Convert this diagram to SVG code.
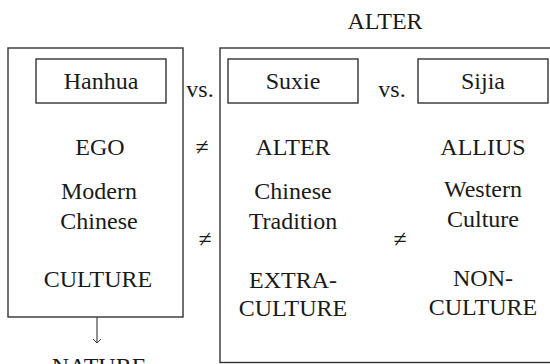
<svg xmlns="http://www.w3.org/2000/svg" width="550" height="364" viewBox="0 0 550 364">
<defs>
<style>
text{font-family:"Liberation Serif","Times New Roman",serif;font-size:24px;fill:#1a1a1a;text-anchor:middle}
.box{fill:none;stroke:#333;stroke-width:1.4}
.ln{fill:none;stroke:#444;stroke-width:1.2}
</style>
<marker id="ah" viewBox="0 0 10 10" refX="9" refY="5" markerWidth="10" markerHeight="10" markerUnits="userSpaceOnUse" orient="auto">
<path d="M5,1 L9,5 L5,9" fill="none" stroke="#444" stroke-width="1"/>
</marker>
</defs>
<rect width="550" height="364" fill="#fff"/>
<g id="ego-frame">
<rect class="box" x="8" y="48" width="175" height="269"/>
<text x="100" y="155">EGO</text>
<text x="99" y="199">Modern</text>
<text x="99" y="229">Chinese</text>
<text x="98" y="287">CULTURE</text>
</g>
<g id="hanhua">
<rect class="box" x="36" y="59" width="130" height="44"/>
<text x="101" y="89">Hanhua</text>
</g>
<g id="alter-frame">
<text x="385" y="29">ALTER</text>
<rect class="box" x="220" y="48" width="340" height="314.5"/>
</g>
<g id="suxie">
<rect class="box" x="228" y="59" width="130" height="44"/>
<text x="293" y="89">Suxie</text>
<text x="293" y="155">ALTER</text>
<text x="293" y="199">Chinese</text>
<text x="293" y="229">Tradition</text>
<text x="293" y="288">EXTRA-</text>
<text x="293" y="316">CULTURE</text>
</g>
<g id="sijia">
<rect class="box" x="418" y="59" width="130" height="44"/>
<text x="483" y="89">Sijia</text>
<text x="483" y="155">ALLIUS</text>
<text x="483" y="197">Western</text>
<text x="483" y="227">Culture</text>
<text x="483" y="286">NON-</text>
<text x="483" y="315">CULTURE</text>
</g>
<g id="nature">
<text x="99" y="374">NATURE</text>
</g>
<g id="relations">
<text x="200" y="97">vs.</text>
<text x="392" y="97">vs.</text>
<text x="202" y="155">≠</text>
<text x="205" y="247">≠</text>
<text x="400" y="247">≠</text>
</g>
<g id="connectors">
<line class="ln" x1="97" y1="317" x2="97" y2="343" marker-end="url(#ah)"/>
</g>
</svg>
